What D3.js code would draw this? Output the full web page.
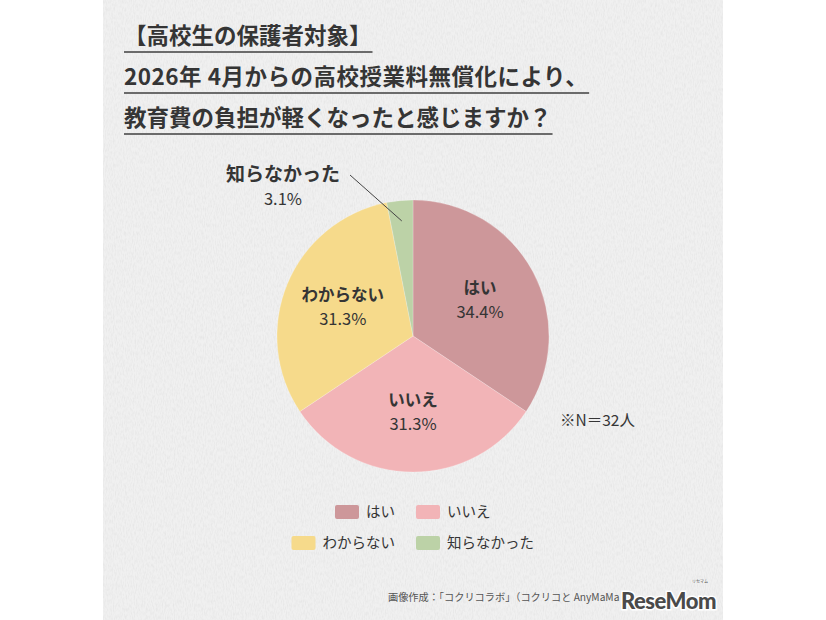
<!DOCTYPE html>
<meta charset="utf-8">
<script src="https://d3js.org/d3.v7.min.js"></script>
<style>
    body {
        margin: 0;
        background: #fff;
    }
    text {
        font-family: "Noto Sans CJK JP", "Noto Sans", sans-serif;
        fill: #353535;
    }
</style>
<body>
<svg width="826" height="620" class="pieChart"></svg>
</body>

<script>
    const titleLines = [
        '【高校生の保護者対象】',
        '2026年 4月からの高校授業料無償化により、',
        '教育費の負担が軽くなったと感じますか？',
    ];
    const categories = ['はい', 'いいえ', 'わからない', '知らなかった'];
    const percents = [34.4, 31.3, 31.3, 3.1];
    const colors = ['#cd979a', '#f2b4b7', '#f6da8b', '#bcd2a7'];
    const sampleNote = '※N＝32人';
    const sourceNote = '画像作成：「コクリコラボ」（コクリコと AnyMaMa';

    const svg = d3.select('.pieChart');

    // paper background
    const defs = svg.append('defs');
    const noise = defs.append('filter').attr('id', 'paper')
        .attr('x', 0).attr('y', 0).attr('width', '100%').attr('height', '100%');
    noise.append('feTurbulence')
        .attr('type', 'fractalNoise')
        .attr('baseFrequency', '0.9 0.25')
        .attr('numOctaves', 2)
        .attr('seed', 3);
    noise.append('feColorMatrix')
        .attr('values', '0 0 0 0 0.4  0 0 0 0 0.4  0 0 0 0 0.4  0 0 0 -0.9 0.55');

    svg.append('rect')
        .attr('x', 103).attr('y', 0)
        .attr('width', 620).attr('height', 620)
        .attr('fill', '#f0f0f0');
    svg.append('rect')
        .attr('x', 103).attr('y', 0)
        .attr('width', 620).attr('height', 620)
        .attr('filter', 'url(#paper)')
        .attr('opacity', 0.3);

    // title with underlines
    const title = svg.append('g').attr('transform', 'translate(124,0)');
    titleLines.forEach((t, i) => {
        const y = 44 + i * 41;
        const txt = title.append('text')
            .attr('x', 0)
            .attr('y', y)
            .attr('font-size', 22.5)
            .attr('font-weight', 700)
            .attr('letter-spacing', i === 1 ? 0.5 : 0)
            .attr('fill', '#383838')
            .text(t);
        const w = txt.node().getComputedTextLength();
        title.append('line')
            .attr('x1', 0).attr('x2', w + 1)
            .attr('y1', y + 8).attr('y2', y + 8)
            .attr('stroke', '#6b6b6b')
            .attr('stroke-width', 2);
    });

    // pie
    const radius = 136;
    const cx = 413, cy = 336;
    const data = categories.map((c, i) => ({ name: c, value: percents[i], color: colors[i] }));

    const pie = d3.pie().sort(null).value(d => d.value);
    const arc = d3.arc().innerRadius(0).outerRadius(radius);
    const labelArc = d3.arc().innerRadius(76).outerRadius(76);
    const outerArc = d3.arc().innerRadius(radius * 0.85).outerRadius(radius * 0.85);

    const pieGrp = svg.append('g').attr('transform', 'translate(' + cx + ',' + cy + ')');
    const arcs = pie(data);

    pieGrp.selectAll('.slice')
        .data(arcs)
        .enter()
        .append('path')
        .attr('class', 'slice')
        .attr('d', arc)
        .attr('fill', d => d.data.color)
        .attr('stroke', 'rgba(255,255,255,0.35)')
        .attr('stroke-width', 0.6);

    // labels inside the larger slices
    const inside = arcs.filter(d => d.data.value > 10);
    inside.forEach(d => {
        const [x, y] = labelArc.centroid(d);
        pieGrp.append('text')
            .attr('x', x).attr('y', y - 12)
            .attr('dy', '0.35em')
            .attr('text-anchor', 'middle')
            .attr('font-size', 16.5)
            .attr('font-weight', 700)
            .text(d.data.name);
        pieGrp.append('text')
            .attr('x', x).attr('y', y + 12)
            .attr('dy', '0.35em')
            .attr('text-anchor', 'middle')
            .attr('font-size', 16.5)
            .text(d.data.value.toFixed(1) + '%');
    });

    // small slice gets an outside label with a leader line
    const outside = arcs.filter(d => d.data.value <= 10);
    outside.forEach(d => {
        const [px, py] = outerArc.centroid(d);
        const lx = -130, ly = -150;
        pieGrp.append('line')
            .attr('x1', px).attr('y1', py)
            .attr('x2', -63).attr('y2', -161)
            .attr('stroke', '#444')
            .attr('stroke-width', 1);
        pieGrp.append('text')
            .attr('x', lx).attr('y', ly - 12)
            .attr('dy', '0.35em')
            .attr('text-anchor', 'middle')
            .attr('font-size', 19)
            .attr('font-weight', 700)
            .text(d.data.name);
        pieGrp.append('text')
            .attr('x', lx).attr('y', ly + 13)
            .attr('dy', '0.35em')
            .attr('text-anchor', 'middle')
            .attr('font-size', 16.5)
            .text(d.data.value.toFixed(1) + '%');
    });

    svg.append('text')
        .attr('x', 560).attr('y', 421)
        .attr('dy', '0.35em')
        .attr('font-size', 15.5)
        .text(sampleNote);

    // legend: two columns, left column right-aligned, right column left-aligned
    const legend = svg.append('g');
    data.forEach((d, i) => {
        const col = i % 2, row = Math.floor(i / 2);
        const y = 512 + row * 31;
        const g = legend.append('g');
        const txt = g.append('text')
            .attr('y', y)
            .attr('dy', '0.35em')
            .attr('font-size', 14.5)
            .text(d.name);
        const w = txt.node().getComputedTextLength();
        const sx = col === 0 ? 395 - w - 7 - 24 : 416;
        g.append('rect')
            .attr('x', sx).attr('y', y - 7)
            .attr('width', 24).attr('height', 14)
            .attr('rx', 2)
            .attr('fill', d.color);
        txt.attr('x', sx + 31);
    });

    // source line and logo
    svg.append('text')
        .attr('x', 388).attr('y', 601)
        .attr('font-size', 10.2)
        .style('fill', '#555')
        .text(sourceNote);
    svg.append('text')
        .attr('x', 621).attr('y', 609)
        .attr('font-family', 'Lato, Roboto, sans-serif')
        .style('font-family', 'Lato, Roboto, sans-serif')
        .attr('font-size', 22)
        .attr('font-weight', 900)
        .attr('letter-spacing', -0.5)
        .style('fill', '#4a4a4a')
        .attr('stroke', '#fff')
        .attr('stroke-width', 3)
        .attr('paint-order', 'stroke')
        .text('ReseMom');
    svg.append('text')
        .attr('x', 700).attr('y', 583)
        .attr('text-anchor', 'middle')
        .attr('font-size', 4)
        .style('fill', '#555')
        .text('リセマム');
</script>
